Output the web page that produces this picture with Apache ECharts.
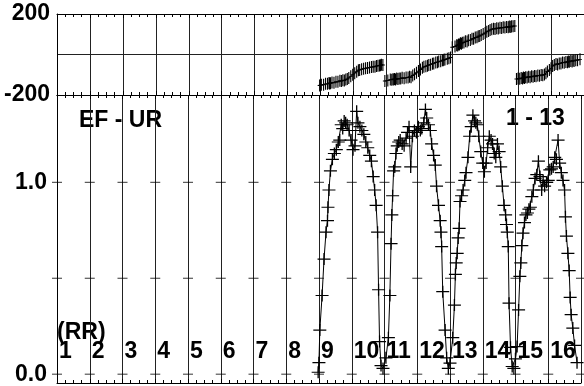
<!DOCTYPE html>
<html><head><meta charset="utf-8">
<script src="https://cdn.jsdelivr.net/npm/echarts@6/dist/echarts.min.js"></script>
<style>html,body{margin:0;padding:0;background:#fff}#c{width:584px;height:386px}</style>
</head><body><div id="c"></div>
<script>
// ---- tick labels ----
const xTicks = [1,2,3,4,5,6,7,8,9,10,11,12,13,14,15,16,17];
const rrLabels = ['1','2','3','4','5','6','7','8','9','10','11','12','13','14','15','16'];
const phaseLabels = [-200, 200];
const ampLabels = [0, 1];
const ampCrossTicks = [0, 0.5, 1];

// ---- data, four arches ----
const x1 = [8.974,8.998,9.025,9.094,9.154,9.214,9.259,9.274,9.304,9.349,9.409,9.469,9.529,9.589,9.634,9.679,9.724,9.769,9.814,9.859,9.919,9.979,10.039,10.099,10.15,10.189,10.249,10.309,10.369,10.429,10.489,10.549,10.60,10.654,10.699,10.744,10.789,10.819,10.849,10.894];
const amp1 = [0.01,0.06,0.23,0.41,0.60,0.74,0.80,0.87,0.96,1.06,1.12,1.15,1.17,1.21,1.22,1.30,1.28,1.32,1.31,1.30,1.27,1.22,1.17,1.19,1.37,1.31,1.29,1.27,1.25,1.21,1.18,1.14,1.11,1.03,0.96,0.88,0.74,0.44,0.17,0.045];
const ph1 = [-153,-152,-149,-149,-145,-145,-141,-143,-142,-138,-139,-135,-135,-130,-131,-127,-128,-124,-121,-116,-108,-100,-92,-85,-78,-76,-73,-70,-68,-67,-64,-62,-61,-60,-57,-56,-54,-53,-51,-52];

const x2 = [10.954,11.044,11.119,11.164,11.20,11.224,11.248,11.278,11.314,11.35,11.389,11.434,11.479,11.539,11.599,11.659,11.704,11.749,11.80,11.854,11.914,11.974,12.034,12.094,12.139,12.199,12.25,12.289,12.343,12.40,12.439,12.499,12.55,12.589,12.649,12.70,12.724,12.745,12.778,12.85,12.898,12.949];
const amp2 = [0.03,0.085,0.19,0.41,0.68,0.83,0.93,1.06,1.08,1.15,1.19,1.21,1.22,1.20,1.19,1.23,1.26,1.29,1.08,1.24,1.27,1.26,1.29,1.27,1.28,1.31,1.38,1.335,1.30,1.27,1.20,1.14,1.09,0.98,0.88,0.80,0.74,0.665,0.43,0.23,0.085,0.03];
const ph2 = [-131,-128,-124,-125,-122,-124,-121,-123,-119,-121,-118,-119,-115,-117,-113,-114,-110,-112,-104,-98,-90,-82,-74,-66,-61,-58,-55,-52,-50,-46,-45,-40,-38,-35,-33,-29,-28,-26,-25,-21,-18,-15];

const x3 = [13.00,13.084,13.135,13.165,13.189,13.219,13.249,13.279,13.306,13.354,13.399,13.45,13.489,13.549,13.60,13.648,13.699,13.75,13.789,13.834,13.879,13.939,13.999,14.05,14.104,14.149,14.20,14.254,14.299,14.35,14.398,14.449,14.50,14.548,14.599,14.65,14.698,14.725,14.749,14.779,14.803,14.848,14.899];
const amp3 = [0.058,0.19,0.36,0.52,0.58,0.63,0.71,0.76,0.90,0.93,0.96,1.01,1.05,1.13,1.24,1.29,1.35,1.32,1.31,1.30,1.24,1.16,1.10,1.055,1.10,1.18,1.24,1.22,1.20,1.15,1.13,1.20,1.16,1.08,0.98,0.88,0.83,0.78,0.74,0.665,0.37,0.14,0.04];
const ph3 = [36,40,46,45,50,49,55,53,58,59,65,64,70,71,78,78,84,85,90,91,96,101,106,112,116,121,125,127,126,130,128,132,131,134,133,136,135,137,138,136,139,140,141];

const x4 = [14.95,14.998,15.049,15.094,15.133,15.163,15.193,15.229,15.274,15.319,15.364,15.409,15.454,15.499,15.544,15.598,15.649,15.70,15.748,15.799,15.844,15.889,15.949,16.00,16.048,16.099,16.15,16.198,16.249,16.30,16.348,16.399,16.45,16.498,16.525,16.555,16.60,16.639,16.669,16.699,16.75,16.804,16.879];
const amp4 = [0.03,0.08,0.144,0.335,0.51,0.58,0.67,0.735,0.79,0.83,0.84,0.86,0.87,0.925,0.96,1.02,1.04,1.11,1.03,0.96,1.01,0.98,1.00,1.01,1.065,1.07,1.08,1.13,1.12,1.22,1.10,1.05,1.01,0.96,0.82,0.72,0.63,0.54,0.40,0.31,0.24,0.15,0.06];
const ph4 = [-121,-119,-120,-116,-118,-114,-116,-112,-114,-110,-112,-108,-110,-106,-108,-104,-105,-101,-103,-99,-92,-84,-77,-68,-57,-52,-47,-49,-44,-45,-40,-41,-37,-38,-35,-36,-32,-34,-30,-32,-28,-28,-24];

// ---- building ----
const arches = [[x1,amp1,ph1],[x2,amp2,ph2],[x3,amp3,ph3],[x4,amp4,ph4]];
const X_MIN = 1, X_MAX = 17;
const Y_MIN = -0.046, Y_MAX = 1.455;
const FONT = '"Liberation Sans", Arial, Helvetica, sans-serif';
const FS = 23;
const LBL = {fontFamily: FONT, fontWeight: 'bold', fontSize: FS, color: '#000'};
const plusLow = 'path://M0,9.0H20V11.0H0ZM9.0,0H11.0V20H9.0Z';
const plusTop = 'path://M0,9.2H20V10.8H0ZM7.2,0H12.8V20H7.2Z';

function xAx(gridIndex, position, extra) {
  return Object.assign({
    type: 'value', gridIndex, position, min: X_MIN, max: X_MAX, interval: 1,
    axisLine: {show: true, onZero: false, lineStyle: {color: '#000', width: 1}},
    axisTick: {show: true, inside: true, length: 4, lineStyle: {color: '#000'}},
    minorTick: {show: true, splitNumber: 4, length: 3, lineStyle: {color: '#000'}},
    axisLabel: {show: false},
    splitLine: {show: false}
  }, extra || {});
}

const ampData = [];
arches.forEach(a => a[0].forEach((x, i) => ampData.push([x, a[1][i]])));

const crossData = [];
xTicks.forEach(x => ampCrossTicks.forEach(y => crossData.push([x, y])));

const series = [];
arches.forEach(a => {
  series.push({
    type: 'line', xAxisIndex: 0, yAxisIndex: 0,
    data: a[0].map((x, i) => [x, a[2][i]]),
    symbol: plusTop, symbolSize: [4, 12], showSymbol: true,
    itemStyle: {color: '#000'}, lineStyle: {color: '#000', width: 1},
    clip: true, silent: true
  });
});
series.push({
  type: 'line', xAxisIndex: 3, yAxisIndex: 1, data: ampData,
  symbol: plusLow, symbolSize: [13, 12], showSymbol: true,
  itemStyle: {color: '#000'}, lineStyle: {color: '#000', width: 1},
  clip: true, silent: true
});
series.push({
  type: 'scatter', xAxisIndex: 3, yAxisIndex: 1, data: crossData,
  symbol: 'rect', symbolSize: [10, 1], itemStyle: {color: '#000'},
  clip: true, silent: true
});

const W = 16 * 100 / 3; // 16 units of 33.33 px
const chart = echarts.init(document.getElementById('c'));
chart.setOption({
  animation: false,
  backgroundColor: '#fff',
  grid: [
    {left: 57, top: 14, width: W, height: 81},
    {left: 57, top: 95, width: W, height: 288}
  ],
  xAxis: [
    xAx(0, 'top', {splitLine: {show: true, lineStyle: {color: '#222', width: 1}}}),
    xAx(0, 'bottom'),
    xAx(1, 'top'),
    xAx(1, 'bottom', {
      splitLine: {show: true, lineStyle: {color: '#222', width: 1}},
      axisLabel: Object.assign({
        show: true, inside: true, margin: 31, align: 'left', verticalAlign: 'middle',
        padding: [0, 0, 0, 2], showMinLabel: true, showMaxLabel: true,
        formatter: v => (Number.isInteger(v) && rrLabels[v - 1]) ? rrLabels[v - 1] : ''
      }, LBL)
    })
  ],
  yAxis: [
    {
      type: 'value', gridIndex: 0, min: -200, max: 200, interval: 200,
      axisLine: {show: true, lineStyle: {color: '#000'}},
      axisTick: {show: false},
      axisLabel: Object.assign({
        margin: 7, formatter: v => phaseLabels.indexOf(v) >= 0 ? String(v) : ''
      }, LBL),
      splitLine: {show: true, lineStyle: {color: '#222', width: 1}}
    },
    {
      type: 'value', gridIndex: 1, min: Y_MIN, max: Y_MAX,
      axisLine: {show: true, lineStyle: {color: '#000'}},
      axisTick: {show: false},
      axisLabel: Object.assign({
        margin: 10, customValues: ampLabels, formatter: v => v.toFixed(1)
      }, LBL),
      splitLine: {show: false}
    }
  ],
  graphic: [
    {type: 'text', x: 79, y: 121, silent: true, style: {text: 'EF - UR', font: 'bold ' + FS + 'px ' + FONT, fill: '#000', textVerticalAlign: 'middle', verticalAlign: 'middle'}},
    {type: 'text', x: 506, y: 119, silent: true, style: {text: '1 - 13', font: 'bold ' + FS + 'px ' + FONT, fill: '#000', textVerticalAlign: 'middle', verticalAlign: 'middle'}},
    {type: 'text', x: 57, y: 333, silent: true, style: {text: '(RR)', font: 'bold ' + FS + 'px ' + FONT, fill: '#000', textVerticalAlign: 'middle', verticalAlign: 'middle'}}
  ],
  series
});
</script>
</body></html>
